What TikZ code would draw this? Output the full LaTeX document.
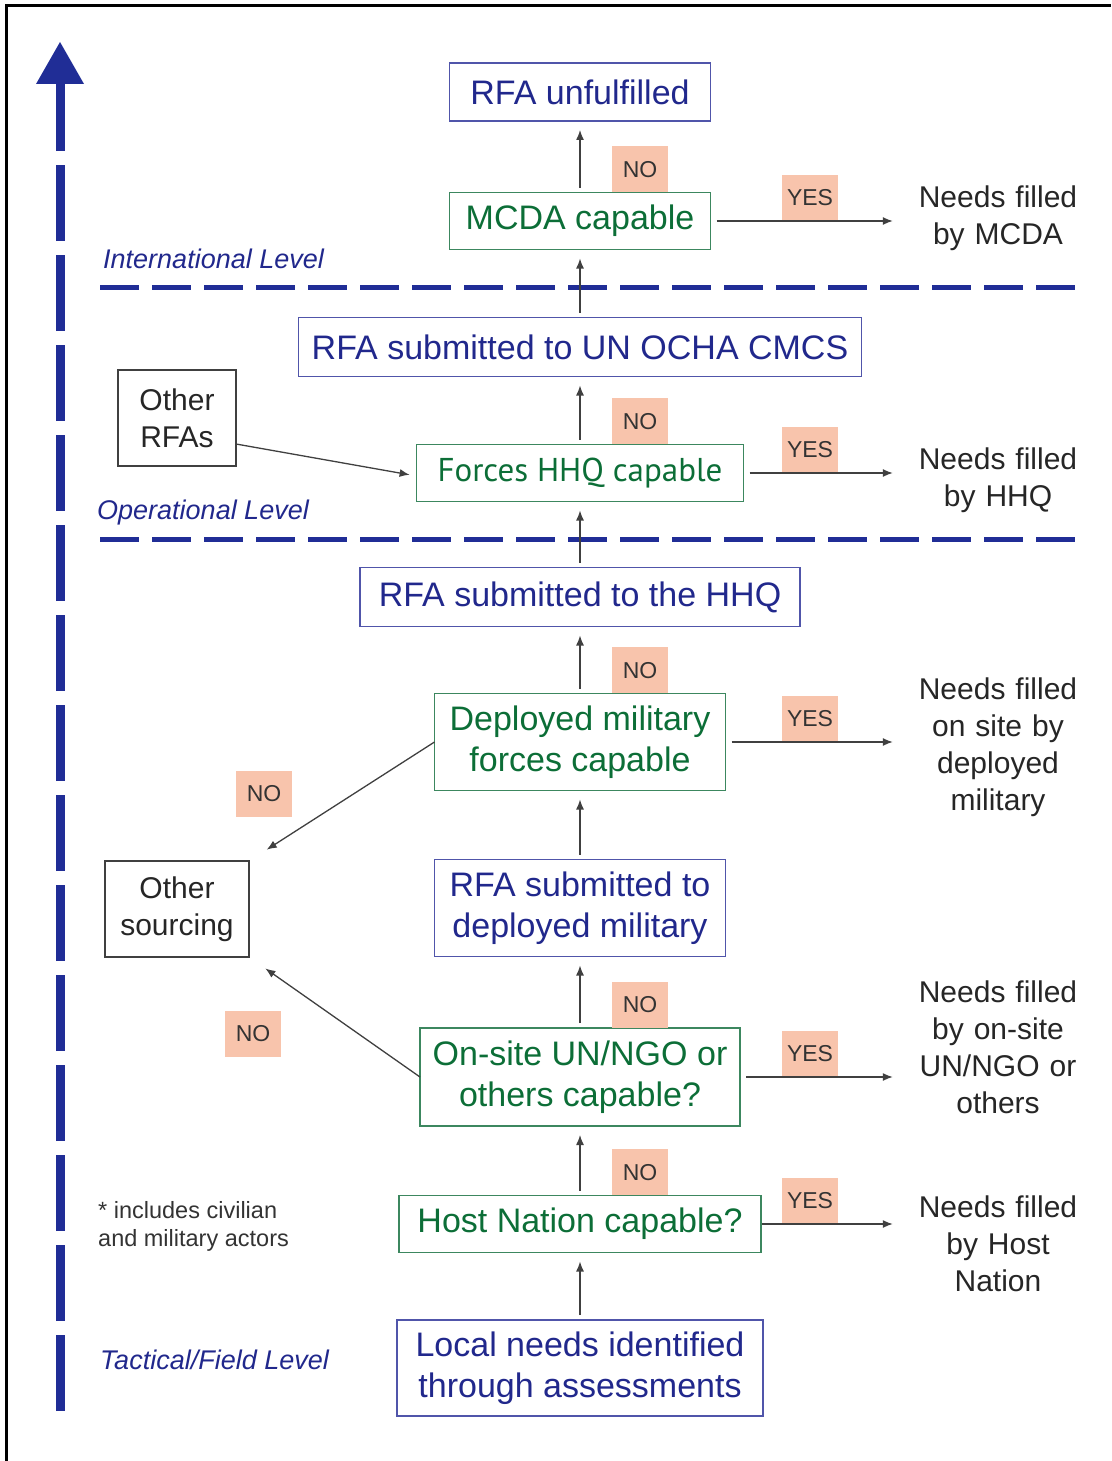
\documentclass[tikz,border=0pt]{standalone}
\usepackage{fontspec}
\setmainfont{Liberation Sans}
\newfontfamily\myriadlike{PT Sans}
\usetikzlibrary{positioning,calc,arrows.meta}
\definecolor{navytxt}{RGB}{33,40,140}
\definecolor{navyline}{RGB}{80,85,170}
\definecolor{greentxt}{RGB}{12,110,55}
\definecolor{greenline}{RGB}{60,135,95}
\definecolor{salmon}{RGB}{248,196,172}
\definecolor{dashblue}{RGB}{32,45,150}
\begin{document}
\begin{tikzpicture}[x=1pt,y=-1pt,
				box/.style={draw,rectangle,line width=1.2pt,outer sep=0pt,inner sep=3pt,align=center,font=\fontsize{34}{41.5}\selectfont},
				req/.style={box,draw=navyline,text=navytxt},
				test/.style={box,draw=greenline,text=greentxt},
				other/.style={box,draw=black!75,text=black!85,font=\fontsize{30}{37}\selectfont},
				answer/.style={fill=salmon,text=black!80,font=\fontsize{23}{23}\selectfont,minimum width=56pt,minimum height=46pt,inner sep=0pt},
				result/.style={text width=180pt,inner sep=0pt,align=center,text=black!85,font=\fontsize{30}{37}\selectfont},
				tier/.style={text=navytxt,font=\fontsize{27}{27}\selectfont\itshape,anchor=base west,inner sep=0pt},
				flow/.style={draw=black!75,line width=1.3pt,-{Latex[length=10pt,width=8pt]}},
				rise/.style={flow,shorten <=5pt,shorten >=9pt}]
				\useasboundingbox (0,0) rectangle (1111,1461);
				\draw[line width=3pt] (6,1461) -- (6,6) -- (1111,6);
				
				% level axis and separators
				\draw[dashblue,line width=9pt,dash pattern=on 76pt off 14pt] (60,1411) -- (60,83);
				\fill[dashblue] (60,42) -- (84,84) -- (36,84) -- cycle;
				\draw[dashblue,line width=5pt,dash pattern=on 39pt off 13pt] (100,287) -- (1082,287);
				\draw[dashblue,line width=5pt,dash pattern=on 39pt off 13pt] (100,539) -- (1082,539);
				\node (intl) [tier] at (103,268)  {International Level};
				\node (oper) [tier] at (97,519)   {Operational Level};
				\node (tact) [tier] at (100,1369) {Tactical/Field Level};
				\node (note) [anchor=north west,inner sep=0pt,align=left,text=black!80,font=\fontsize{23.5}{28}\selectfont] at (98,1201) {* includes civilian\\and military actors};
				
				% main chain
				\node (unful)  [req,minimum width=261pt,minimum height=58pt]  at (580,92)   {RFA unfulfilled};
				\node (mcda)   [test,minimum width=261pt,minimum height=57pt] at (580,221)  {MCDA capable};
				\node (ocha)   [req,minimum width=563pt,minimum height=59pt]  at (580,347)  {RFA submitted to UN OCHA CMCS};
				\node (hhqcap) [test,minimum width=327pt,minimum height=57pt,font=\myriadlike\fontsize{33}{40}\selectfont] at (580,473) {Forces HHQ capable};
				\node (hhq)    [req,minimum width=440pt,minimum height=59pt]  at (580,597)  {RFA submitted to the HHQ};
				\node (depcap) [test,minimum width=291pt,minimum height=97pt] at (580,742)  {Deployed military\\forces capable};
				\node (dep)    [req,minimum width=291pt,minimum height=97pt]  at (580,908)  {RFA submitted to\\deployed military};
				\node (site)   [test,minimum width=320pt,minimum height=98pt] at (580,1077) {On-site UN/NGO or\\others capable?};
				\node (host)   [test,minimum width=362pt,minimum height=57pt] at (580,1224) {Host Nation capable?};
				\node (local)  [req,minimum width=366pt,minimum height=96pt]  at (580,1368) {Local needs identified\\through assessments};
				
				\node (orfa) [other,minimum width=118pt,minimum height=96pt] at (177,418) {Other\\RFAs};
				\node (osrc) [other,minimum width=144pt,minimum height=96pt] at (177,909) {Other\\sourcing};
				
				\node (fillA) [result] at (998,218)  {Needs filled\\by MCDA};
				\node (fillB) [result] at (998,480)  {Needs filled\\by HHQ};
				\node (fillC) [result] at (998,747)  {Needs filled\\on site by\\deployed\\military};
				\node (fillD) [result] at (998,1047) {Needs filled\\by on-site\\UN/NGO or\\others};
				\node (fillE) [result] at (998,1244) {Needs filled\\by Host\\Nation};
				
				% answers
				\coordinate (nox)  at (640,0);
				\coordinate (yesx) at (810,0);
				\node (noA) [answer,anchor=south] at (nox |- mcda.north)   {NO};
				\node (noB) [answer,anchor=south] at (nox |- hhqcap.north) {NO};
				\node (noC) [answer,anchor=south] at (nox |- depcap.north) {NO};
				\node (noD) [answer,anchor=south] at (nox |- site.north)   {NO};
				\node (noE) [answer,anchor=south] at (nox |- host.north)   {NO};
				\node (noF) [answer] at (264,794)  {NO};
				\node (noG) [answer] at (253,1034) {NO};
				\node (yesA) [answer,anchor=south] at (yesx |- mcda.east)   {YES};
				\node (yesB) [answer,anchor=south] at (yesx |- hhqcap.east) {YES};
				\node (yesC) [answer,anchor=south] at (yesx |- depcap.east) {YES};
				\node (yesD) [answer,anchor=south] at (yesx |- site.east)   {YES};
				\node (yesE) [answer,anchor=south] at (yesx |- host.east)   {YES};
				
				\draw[rise] (local.north)  -- (host.south);
				\draw[rise] (host.north)   -- (site.south);
				\draw[rise] (site.north)   -- (dep.south);
				\draw[rise] (dep.north)    -- (depcap.south);
				\draw[rise] (depcap.north) -- (hhq.south);
				\draw[rise] (hhq.north)    -- (hhqcap.south);
				\draw[rise] (hhqcap.north) -- (ocha.south);
				\draw[rise] (ocha.north)   -- (mcda.south);
				\draw[rise] (mcda.north)   -- (unful.south);
				
				\draw[flow,shorten <=6pt,shorten >=15pt] (mcda.east)   -- (mcda.east -| fillA.west);
				\draw[flow,shorten <=6pt,shorten >=15pt] (hhqcap.east) -- (hhqcap.east -| fillB.west);
				\draw[flow,shorten <=6pt,shorten >=15pt] (depcap.east) -- (depcap.east -| fillC.west);
				\draw[flow,shorten <=6pt,shorten >=15pt] (site.east)   -- (site.east -| fillD.west);
				\draw[flow,shorten <=1pt,shorten >=15pt] (host.east)   -- (host.east -| fillE.west);
				
				\draw[flow,shorten >=21pt] (depcap.west) -- (osrc.north east);
				\draw[flow,shorten >=20pt] (site.west) -- (osrc.south east);
				\draw[flow,shorten <=1pt,shorten >=7pt] ([yshift=-26pt]orfa.east) -- ([yshift=-3pt]hhqcap.west);
			\end{tikzpicture}
\end{document}
